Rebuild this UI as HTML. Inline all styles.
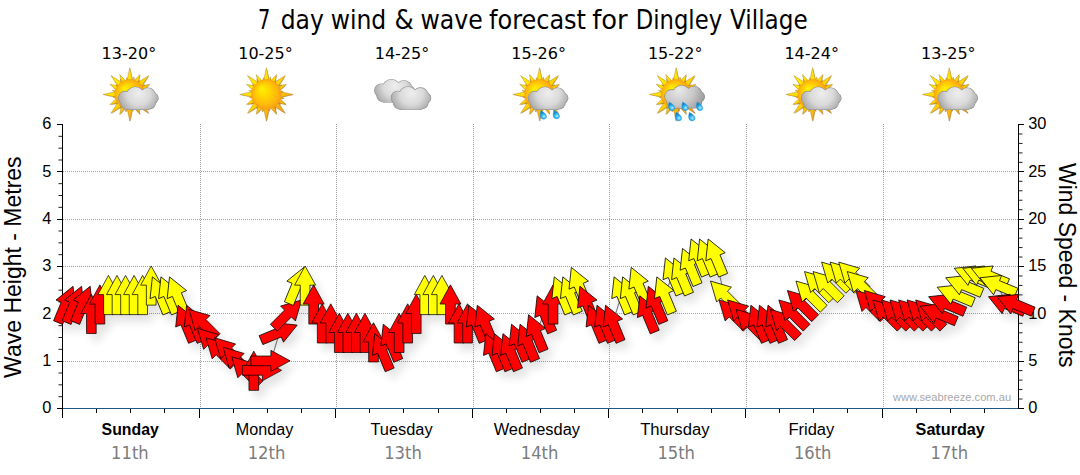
<!DOCTYPE html>
<html lang="en"><head><meta charset="utf-8"><title>7 day wind &amp; wave forecast for Dingley Village</title>
<style>html,body{margin:0;padding:0;background:#fff;}svg{display:block;}.ar{font-family:"Liberation Sans",Arial,sans-serif;}.ta{font-family:"DejaVu Sans Condensed","DejaVu Sans",Tahoma,Verdana,sans-serif;}</style></head><body>
<svg width="1080" height="475" viewBox="0 0 1080 475">
<defs>
<filter id="sh" x="-5%" y="-20%" width="110%" height="150%">
<feGaussianBlur in="SourceAlpha" stdDeviation="4.5" result="b"/>
<feOffset in="b" dx="5" dy="7" result="o"/>
<feComponentTransfer in="o" result="s"><feFuncA type="linear" slope="0.115"/></feComponentTransfer>
<feMerge><feMergeNode in="s"/><feMergeNode in="SourceGraphic"/></feMerge>
</filter>
<filter id="isoft" x="-10%" y="-10%" width="120%" height="120%"><feGaussianBlur stdDeviation="0.35"/></filter>
</defs>

<rect x="0" y="0" width="1080" height="475" fill="#ffffff"/>
<text class="ta" y="29.3" font-size="26.7" fill="#000"><tspan x="257.9" textLength="12.3" lengthAdjust="spacingAndGlyphs">7</tspan> <tspan x="280.7" textLength="43.1" lengthAdjust="spacingAndGlyphs">day</tspan> <tspan x="330.7" textLength="55.6" lengthAdjust="spacingAndGlyphs">wind</tspan> <tspan x="394.6" textLength="19.2" lengthAdjust="spacingAndGlyphs">&amp;</tspan> <tspan x="420.4" textLength="62.3" lengthAdjust="spacingAndGlyphs">wave</tspan> <tspan x="489.0" textLength="97.0" lengthAdjust="spacingAndGlyphs">forecast</tspan> <tspan x="592.3" textLength="35.4" lengthAdjust="spacingAndGlyphs">for</tspan> <tspan x="635.7" textLength="86.4" lengthAdjust="spacingAndGlyphs">Dingley</tspan> <tspan x="730.1" textLength="77.6" lengthAdjust="spacingAndGlyphs">Village</tspan></text>
<g stroke="#a0a0a0" stroke-width="1" stroke-dasharray="1 1" shape-rendering="crispEdges"><line x1="63.0" y1="361.5" x2="1017.5" y2="361.5"/><line x1="63.0" y1="313.5" x2="1017.5" y2="313.5"/><line x1="63.0" y1="266.5" x2="1017.5" y2="266.5"/><line x1="63.0" y1="219.5" x2="1017.5" y2="219.5"/><line x1="63.0" y1="171.5" x2="1017.5" y2="171.5"/><line x1="200.5" y1="124.0" x2="200.5" y2="408.0"/><line x1="336.5" y1="124.0" x2="336.5" y2="408.0"/><line x1="473.5" y1="124.0" x2="473.5" y2="408.0"/><line x1="609.5" y1="124.0" x2="609.5" y2="408.0"/><line x1="746.5" y1="124.0" x2="746.5" y2="408.0"/><line x1="883.5" y1="124.0" x2="883.5" y2="408.0"/></g>
<g stroke="#000" stroke-width="1" shape-rendering="crispEdges">
<line x1="62.5" y1="124.0" x2="62.5" y2="409.0"/>
<line x1="1018.5" y1="124.0" x2="1018.5" y2="409.0"/>
<line x1="56.5" y1="408.5" x2="62.5" y2="408.5"/>
<line x1="58.5" y1="396.67" x2="62.5" y2="396.67" stroke="#222" shape-rendering="auto"/>
<line x1="58.5" y1="384.83" x2="62.5" y2="384.83" stroke="#222" shape-rendering="auto"/>
<line x1="58.5" y1="373.00" x2="62.5" y2="373.00" stroke="#222" shape-rendering="auto"/>
<line x1="56.5" y1="361.5" x2="62.5" y2="361.5"/>
<line x1="58.5" y1="349.33" x2="62.5" y2="349.33" stroke="#222" shape-rendering="auto"/>
<line x1="58.5" y1="337.50" x2="62.5" y2="337.50" stroke="#222" shape-rendering="auto"/>
<line x1="58.5" y1="325.67" x2="62.5" y2="325.67" stroke="#222" shape-rendering="auto"/>
<line x1="56.5" y1="313.5" x2="62.5" y2="313.5"/>
<line x1="58.5" y1="302.00" x2="62.5" y2="302.00" stroke="#222" shape-rendering="auto"/>
<line x1="58.5" y1="290.17" x2="62.5" y2="290.17" stroke="#222" shape-rendering="auto"/>
<line x1="58.5" y1="278.33" x2="62.5" y2="278.33" stroke="#222" shape-rendering="auto"/>
<line x1="56.5" y1="266.5" x2="62.5" y2="266.5"/>
<line x1="58.5" y1="254.67" x2="62.5" y2="254.67" stroke="#222" shape-rendering="auto"/>
<line x1="58.5" y1="242.83" x2="62.5" y2="242.83" stroke="#222" shape-rendering="auto"/>
<line x1="58.5" y1="231.00" x2="62.5" y2="231.00" stroke="#222" shape-rendering="auto"/>
<line x1="56.5" y1="219.5" x2="62.5" y2="219.5"/>
<line x1="58.5" y1="207.33" x2="62.5" y2="207.33" stroke="#222" shape-rendering="auto"/>
<line x1="58.5" y1="195.50" x2="62.5" y2="195.50" stroke="#222" shape-rendering="auto"/>
<line x1="58.5" y1="183.67" x2="62.5" y2="183.67" stroke="#222" shape-rendering="auto"/>
<line x1="56.5" y1="171.5" x2="62.5" y2="171.5"/>
<line x1="58.5" y1="160.00" x2="62.5" y2="160.00" stroke="#222" shape-rendering="auto"/>
<line x1="58.5" y1="148.17" x2="62.5" y2="148.17" stroke="#222" shape-rendering="auto"/>
<line x1="58.5" y1="136.33" x2="62.5" y2="136.33" stroke="#222" shape-rendering="auto"/>
<line x1="56.5" y1="124.5" x2="62.5" y2="124.5"/>
<line x1="1018.5" y1="408.5" x2="1024.0" y2="408.5"/>
<line x1="1018.5" y1="399.03" x2="1022.5" y2="399.03" stroke="#222" shape-rendering="auto"/>
<line x1="1018.5" y1="389.57" x2="1022.5" y2="389.57" stroke="#222" shape-rendering="auto"/>
<line x1="1018.5" y1="380.10" x2="1022.5" y2="380.10" stroke="#222" shape-rendering="auto"/>
<line x1="1018.5" y1="370.63" x2="1022.5" y2="370.63" stroke="#222" shape-rendering="auto"/>
<line x1="1018.5" y1="361.5" x2="1024.0" y2="361.5"/>
<line x1="1018.5" y1="351.70" x2="1022.5" y2="351.70" stroke="#222" shape-rendering="auto"/>
<line x1="1018.5" y1="342.23" x2="1022.5" y2="342.23" stroke="#222" shape-rendering="auto"/>
<line x1="1018.5" y1="332.77" x2="1022.5" y2="332.77" stroke="#222" shape-rendering="auto"/>
<line x1="1018.5" y1="323.30" x2="1022.5" y2="323.30" stroke="#222" shape-rendering="auto"/>
<line x1="1018.5" y1="313.5" x2="1024.0" y2="313.5"/>
<line x1="1018.5" y1="304.37" x2="1022.5" y2="304.37" stroke="#222" shape-rendering="auto"/>
<line x1="1018.5" y1="294.90" x2="1022.5" y2="294.90" stroke="#222" shape-rendering="auto"/>
<line x1="1018.5" y1="285.43" x2="1022.5" y2="285.43" stroke="#222" shape-rendering="auto"/>
<line x1="1018.5" y1="275.97" x2="1022.5" y2="275.97" stroke="#222" shape-rendering="auto"/>
<line x1="1018.5" y1="266.5" x2="1024.0" y2="266.5"/>
<line x1="1018.5" y1="257.03" x2="1022.5" y2="257.03" stroke="#222" shape-rendering="auto"/>
<line x1="1018.5" y1="247.57" x2="1022.5" y2="247.57" stroke="#222" shape-rendering="auto"/>
<line x1="1018.5" y1="238.10" x2="1022.5" y2="238.10" stroke="#222" shape-rendering="auto"/>
<line x1="1018.5" y1="228.63" x2="1022.5" y2="228.63" stroke="#222" shape-rendering="auto"/>
<line x1="1018.5" y1="219.5" x2="1024.0" y2="219.5"/>
<line x1="1018.5" y1="209.70" x2="1022.5" y2="209.70" stroke="#222" shape-rendering="auto"/>
<line x1="1018.5" y1="200.23" x2="1022.5" y2="200.23" stroke="#222" shape-rendering="auto"/>
<line x1="1018.5" y1="190.77" x2="1022.5" y2="190.77" stroke="#222" shape-rendering="auto"/>
<line x1="1018.5" y1="181.30" x2="1022.5" y2="181.30" stroke="#222" shape-rendering="auto"/>
<line x1="1018.5" y1="171.5" x2="1024.0" y2="171.5"/>
<line x1="1018.5" y1="162.37" x2="1022.5" y2="162.37" stroke="#222" shape-rendering="auto"/>
<line x1="1018.5" y1="152.90" x2="1022.5" y2="152.90" stroke="#222" shape-rendering="auto"/>
<line x1="1018.5" y1="143.43" x2="1022.5" y2="143.43" stroke="#222" shape-rendering="auto"/>
<line x1="1018.5" y1="133.97" x2="1022.5" y2="133.97" stroke="#222" shape-rendering="auto"/>
<line x1="1018.5" y1="124.5" x2="1024.0" y2="124.5"/>
<line x1="62.5" y1="408.5" x2="62.5" y2="418.0"/>
<line x1="96.5" y1="408.5" x2="96.5" y2="413.0"/>
<line x1="130.5" y1="408.5" x2="130.5" y2="413.0"/>
<line x1="164.5" y1="408.5" x2="164.5" y2="413.0"/>
<line x1="199.5" y1="408.5" x2="199.5" y2="418.0"/>
<line x1="233.5" y1="408.5" x2="233.5" y2="413.0"/>
<line x1="267.5" y1="408.5" x2="267.5" y2="413.0"/>
<line x1="301.5" y1="408.5" x2="301.5" y2="413.0"/>
<line x1="335.5" y1="408.5" x2="335.5" y2="418.0"/>
<line x1="369.5" y1="408.5" x2="369.5" y2="413.0"/>
<line x1="403.5" y1="408.5" x2="403.5" y2="413.0"/>
<line x1="438.5" y1="408.5" x2="438.5" y2="413.0"/>
<line x1="472.5" y1="408.5" x2="472.5" y2="418.0"/>
<line x1="506.5" y1="408.5" x2="506.5" y2="413.0"/>
<line x1="540.5" y1="408.5" x2="540.5" y2="413.0"/>
<line x1="574.5" y1="408.5" x2="574.5" y2="413.0"/>
<line x1="608.5" y1="408.5" x2="608.5" y2="418.0"/>
<line x1="642.5" y1="408.5" x2="642.5" y2="413.0"/>
<line x1="677.5" y1="408.5" x2="677.5" y2="413.0"/>
<line x1="711.5" y1="408.5" x2="711.5" y2="413.0"/>
<line x1="745.5" y1="408.5" x2="745.5" y2="418.0"/>
<line x1="779.5" y1="408.5" x2="779.5" y2="413.0"/>
<line x1="813.5" y1="408.5" x2="813.5" y2="413.0"/>
<line x1="847.5" y1="408.5" x2="847.5" y2="413.0"/>
<line x1="882.5" y1="408.5" x2="882.5" y2="418.0"/>
<line x1="916.5" y1="408.5" x2="916.5" y2="413.0"/>
<line x1="950.5" y1="408.5" x2="950.5" y2="413.0"/>
<line x1="984.5" y1="408.5" x2="984.5" y2="413.0"/>
</g>
<line x1="63.0" y1="408.5" x2="1018.0" y2="408.5" stroke="#1b5787" stroke-width="1" shape-rendering="crispEdges"/>
<text class="ar" x="51.3" y="413.4" font-size="16.4" text-anchor="end" fill="#000">0</text>
<text class="ar" x="51.3" y="366.1" font-size="16.4" text-anchor="end" fill="#000">1</text>
<text class="ar" x="51.3" y="318.7" font-size="16.4" text-anchor="end" fill="#000">2</text>
<text class="ar" x="51.3" y="271.4" font-size="16.4" text-anchor="end" fill="#000">3</text>
<text class="ar" x="51.3" y="224.1" font-size="16.4" text-anchor="end" fill="#000">4</text>
<text class="ar" x="51.3" y="176.7" font-size="16.4" text-anchor="end" fill="#000">5</text>
<text class="ar" x="51.3" y="129.4" font-size="16.4" text-anchor="end" fill="#000">6</text>
<text class="ar" x="1028.2" y="413.4" font-size="16.4" fill="#000">0</text>
<text class="ar" x="1028.2" y="366.1" font-size="16.4" fill="#000">5</text>
<text class="ar" x="1028.2" y="318.7" font-size="16.4" fill="#000">10</text>
<text class="ar" x="1028.2" y="271.4" font-size="16.4" fill="#000">15</text>
<text class="ar" x="1028.2" y="224.1" font-size="16.4" fill="#000">20</text>
<text class="ar" x="1028.2" y="176.7" font-size="16.4" fill="#000">25</text>
<text class="ar" x="1028.2" y="129.4" font-size="16.4" fill="#000">30</text>
<text class="ar" transform="translate(20.7,377.9) rotate(-90)" font-size="23" textLength="221.5" lengthAdjust="spacingAndGlyphs" fill="#000">Wave Height - Metres</text>
<text class="ar" transform="translate(1059.2,163) rotate(90)" font-size="23" textLength="204.4" lengthAdjust="spacingAndGlyphs" fill="#000">Wind Speed - Knots</text>
<text class="ar" x="101.6" y="434.8" font-size="16" font-weight="bold" textLength="57.2" lengthAdjust="spacingAndGlyphs" fill="#000">Sunday</text>
<text class="ta" x="111.1" y="458.8" font-size="17.3" textLength="37.6" lengthAdjust="spacingAndGlyphs" fill="#7c7c7c">11th</text>
<text class="ta" x="101.6" y="58.9" font-size="16.4" textLength="54.6" lengthAdjust="spacingAndGlyphs" fill="#000">13-20°</text>
<text class="ar" x="235.8" y="434.8" font-size="16" textLength="57.5" lengthAdjust="spacingAndGlyphs" fill="#000">Monday</text>
<text class="ta" x="247.7" y="458.8" font-size="17.3" textLength="37.6" lengthAdjust="spacingAndGlyphs" fill="#7c7c7c">12th</text>
<text class="ta" x="238.2" y="58.9" font-size="16.4" textLength="54.6" lengthAdjust="spacingAndGlyphs" fill="#000">10-25°</text>
<text class="ar" x="370.4" y="434.8" font-size="16" textLength="62.2" lengthAdjust="spacingAndGlyphs" fill="#000">Tuesday</text>
<text class="ta" x="384.2" y="458.8" font-size="17.3" textLength="37.6" lengthAdjust="spacingAndGlyphs" fill="#7c7c7c">13th</text>
<text class="ta" x="374.7" y="58.9" font-size="16.4" textLength="54.6" lengthAdjust="spacingAndGlyphs" fill="#000">14-25°</text>
<text class="ar" x="493.7" y="434.8" font-size="16" textLength="86.3" lengthAdjust="spacingAndGlyphs" fill="#000">Wednesday</text>
<text class="ta" x="520.8" y="458.8" font-size="17.3" textLength="37.6" lengthAdjust="spacingAndGlyphs" fill="#7c7c7c">14th</text>
<text class="ta" x="511.3" y="58.9" font-size="16.4" textLength="54.6" lengthAdjust="spacingAndGlyphs" fill="#000">15-26°</text>
<text class="ar" x="640.2" y="434.8" font-size="16" textLength="69.3" lengthAdjust="spacingAndGlyphs" fill="#000">Thursday</text>
<text class="ta" x="657.4" y="458.8" font-size="17.3" textLength="37.6" lengthAdjust="spacingAndGlyphs" fill="#7c7c7c">15th</text>
<text class="ta" x="647.9" y="58.9" font-size="16.4" textLength="54.6" lengthAdjust="spacingAndGlyphs" fill="#000">15-22°</text>
<text class="ar" x="788.4" y="434.8" font-size="16" textLength="45.9" lengthAdjust="spacingAndGlyphs" fill="#000">Friday</text>
<text class="ta" x="793.9" y="458.8" font-size="17.3" textLength="37.6" lengthAdjust="spacingAndGlyphs" fill="#7c7c7c">16th</text>
<text class="ta" x="784.4" y="58.9" font-size="16.4" textLength="54.6" lengthAdjust="spacingAndGlyphs" fill="#000">14-24°</text>
<text class="ar" x="915.6" y="434.8" font-size="16" font-weight="bold" textLength="69.2" lengthAdjust="spacingAndGlyphs" fill="#000">Saturday</text>
<text class="ta" x="930.5" y="458.8" font-size="17.3" textLength="37.6" lengthAdjust="spacingAndGlyphs" fill="#7c7c7c">17th</text>
<text class="ta" x="921.0" y="58.9" font-size="16.4" textLength="54.6" lengthAdjust="spacingAndGlyphs" fill="#000">13-25°</text>
<polyline points="65.7,304.1 74.2,304.1 82.8,304.1 91.4,313.5 99.9,304.1 108.5,294.6 117.0,294.6 125.6,294.6 134.1,294.6 142.7,294.6 151.2,285.1 159.8,294.6 168.3,294.6 176.9,294.6 185.4,323.0 193.9,323.0 202.5,323.0 211.1,341.9 219.6,351.4 228.2,351.4 236.7,360.9 245.2,370.3 253.8,370.3 262.4,370.3 270.9,360.9 279.5,332.5 288.0,313.5 296.6,285.1 305.1,285.1 313.7,304.1 322.2,323.0 330.8,323.0 339.3,332.5 347.9,332.5 356.4,332.5 364.9,332.5 373.5,341.9 382.1,351.4 390.6,341.9 399.2,332.5 407.7,323.0 416.2,313.5 424.8,294.6 433.4,294.6 441.9,294.6 450.5,304.1 459.0,323.0 467.6,323.0 476.1,323.0 484.7,323.0 493.2,351.4 501.8,351.4 510.3,351.4 518.9,341.9 527.4,341.9 536.0,332.5 544.5,313.5 553.1,304.1 561.6,294.6 570.2,294.6 578.7,285.1 587.3,304.1 595.8,323.0 604.4,323.0 612.9,323.0 621.5,294.6 630.0,294.6 638.6,285.1 647.1,313.5 655.7,304.1 664.2,294.6 672.8,275.7 681.3,275.7 689.9,266.2 698.4,256.7 707.0,256.7 715.5,256.7 724.1,294.6 732.6,313.5 741.2,313.5 749.7,323.0 758.3,323.0 766.8,323.0 775.4,323.0 783.9,323.0 792.5,313.5 801.0,304.1 809.6,294.6 818.1,285.1 826.7,285.1 835.2,275.7 843.8,275.7 852.3,275.7 860.9,285.1 869.4,304.1 878.0,304.1 886.5,313.5 895.1,313.5 903.6,313.5 912.2,313.5 920.7,313.5 929.3,313.5 937.8,313.5 946.4,304.1 954.9,294.6 963.5,285.1 972.0,275.7 980.6,275.7 989.1,275.7 997.7,285.1 1006.2,304.1 1014.8,304.1" fill="none" stroke="#808080" stroke-width="1.1"/>
<g stroke="#000" stroke-width="0.72" stroke-linejoin="miter" filter="url(#sh)">
<path d="M0,-19.2 L10.5,0.0 L4.85,0.0 L4.85,20.0 L-4.85,20.0 L-4.85,0.0 L-10.5,0.0 Z" fill="#ff0000" transform="translate(65.70,304.06) rotate(22.5)"/>
<path d="M0,-19.2 L10.5,0.0 L4.85,0.0 L4.85,20.0 L-4.85,20.0 L-4.85,0.0 L-10.5,0.0 Z" fill="#ff0000" transform="translate(74.25,304.06) rotate(22.5)"/>
<path d="M0,-19.2 L10.5,0.0 L4.85,0.0 L4.85,20.0 L-4.85,20.0 L-4.85,0.0 L-10.5,0.0 Z" fill="#ff0000" transform="translate(82.80,304.06) rotate(22.5)"/>
<path d="M0,-19.2 L10.5,0.0 L4.85,0.0 L4.85,20.0 L-4.85,20.0 L-4.85,0.0 L-10.5,0.0 Z" fill="#ff0000" transform="translate(91.35,313.53) rotate(0)"/>
<path d="M0,-19.2 L10.5,0.0 L4.85,0.0 L4.85,20.0 L-4.85,20.0 L-4.85,0.0 L-10.5,0.0 Z" fill="#ff0000" transform="translate(99.90,304.06) rotate(0)"/>
<path d="M0,-19.2 L10.5,0.0 L4.85,0.0 L4.85,20.0 L-4.85,20.0 L-4.85,0.0 L-10.5,0.0 Z" fill="#ffff00" transform="translate(108.45,294.60) rotate(0)"/>
<path d="M0,-19.2 L10.5,0.0 L4.85,0.0 L4.85,20.0 L-4.85,20.0 L-4.85,0.0 L-10.5,0.0 Z" fill="#ffff00" transform="translate(117.00,294.60) rotate(0)"/>
<path d="M0,-19.2 L10.5,0.0 L4.85,0.0 L4.85,20.0 L-4.85,20.0 L-4.85,0.0 L-10.5,0.0 Z" fill="#ffff00" transform="translate(125.55,294.60) rotate(0)"/>
<path d="M0,-19.2 L10.5,0.0 L4.85,0.0 L4.85,20.0 L-4.85,20.0 L-4.85,0.0 L-10.5,0.0 Z" fill="#ffff00" transform="translate(134.10,294.60) rotate(0)"/>
<path d="M0,-19.2 L10.5,0.0 L4.85,0.0 L4.85,20.0 L-4.85,20.0 L-4.85,0.0 L-10.5,0.0 Z" fill="#ffff00" transform="translate(142.65,294.60) rotate(0)"/>
<path d="M0,-19.2 L10.5,0.0 L4.85,0.0 L4.85,20.0 L-4.85,20.0 L-4.85,0.0 L-10.5,0.0 Z" fill="#ffff00" transform="translate(151.20,285.13) rotate(0)"/>
<path d="M0,-19.2 L10.5,0.0 L4.85,0.0 L4.85,20.0 L-4.85,20.0 L-4.85,0.0 L-10.5,0.0 Z" fill="#ffff00" transform="translate(159.75,294.60) rotate(-22.5)"/>
<path d="M0,-19.2 L10.5,0.0 L4.85,0.0 L4.85,20.0 L-4.85,20.0 L-4.85,0.0 L-10.5,0.0 Z" fill="#ffff00" transform="translate(168.30,294.60) rotate(-22.5)"/>
<path d="M0,-19.2 L10.5,0.0 L4.85,0.0 L4.85,20.0 L-4.85,20.0 L-4.85,0.0 L-10.5,0.0 Z" fill="#ffff00" transform="translate(176.85,294.60) rotate(-22.5)"/>
<path d="M0,-19.2 L10.5,0.0 L4.85,0.0 L4.85,20.0 L-4.85,20.0 L-4.85,0.0 L-10.5,0.0 Z" fill="#ff0000" transform="translate(185.40,323.00) rotate(-22.5)"/>
<path d="M0,-19.2 L10.5,0.0 L4.85,0.0 L4.85,20.0 L-4.85,20.0 L-4.85,0.0 L-10.5,0.0 Z" fill="#ff0000" transform="translate(193.95,323.00) rotate(-22.5)"/>
<path d="M0,-19.2 L10.5,0.0 L4.85,0.0 L4.85,20.0 L-4.85,20.0 L-4.85,0.0 L-10.5,0.0 Z" fill="#ff0000" transform="translate(202.50,323.00) rotate(-45.0)"/>
<path d="M0,-19.2 L10.5,0.0 L4.85,0.0 L4.85,20.0 L-4.85,20.0 L-4.85,0.0 L-10.5,0.0 Z" fill="#ff0000" transform="translate(211.05,341.93) rotate(-45.0)"/>
<path d="M0,-19.2 L10.5,0.0 L4.85,0.0 L4.85,20.0 L-4.85,20.0 L-4.85,0.0 L-10.5,0.0 Z" fill="#ff0000" transform="translate(219.60,351.40) rotate(-45.0)"/>
<path d="M0,-19.2 L10.5,0.0 L4.85,0.0 L4.85,20.0 L-4.85,20.0 L-4.85,0.0 L-10.5,0.0 Z" fill="#ff0000" transform="translate(228.15,351.40) rotate(-45.0)"/>
<path d="M0,-19.2 L10.5,0.0 L4.85,0.0 L4.85,20.0 L-4.85,20.0 L-4.85,0.0 L-10.5,0.0 Z" fill="#ff0000" transform="translate(236.70,360.87) rotate(-45.0)"/>
<path d="M0,-19.2 L10.5,0.0 L4.85,0.0 L4.85,20.0 L-4.85,20.0 L-4.85,0.0 L-10.5,0.0 Z" fill="#ff0000" transform="translate(245.25,370.33) rotate(-45.0)"/>
<path d="M0,-19.2 L10.5,0.0 L4.85,0.0 L4.85,20.0 L-4.85,20.0 L-4.85,0.0 L-10.5,0.0 Z" fill="#ff0000" transform="translate(253.80,370.33) rotate(0)"/>
<path d="M0,-19.2 L10.5,0.0 L4.85,0.0 L4.85,20.0 L-4.85,20.0 L-4.85,0.0 L-10.5,0.0 Z" fill="#ff0000" transform="translate(262.35,370.33) rotate(90.0)"/>
<path d="M0,-19.2 L10.5,0.0 L4.85,0.0 L4.85,20.0 L-4.85,20.0 L-4.85,0.0 L-10.5,0.0 Z" fill="#ff0000" transform="translate(270.90,360.87) rotate(90.0)"/>
<path d="M0,-19.2 L10.5,0.0 L4.85,0.0 L4.85,20.0 L-4.85,20.0 L-4.85,0.0 L-10.5,0.0 Z" fill="#ff0000" transform="translate(279.45,332.46) rotate(67.5)"/>
<path d="M0,-19.2 L10.5,0.0 L4.85,0.0 L4.85,20.0 L-4.85,20.0 L-4.85,0.0 L-10.5,0.0 Z" fill="#ff0000" transform="translate(288.00,313.53) rotate(45.0)"/>
<path d="M0,-19.2 L10.5,0.0 L4.85,0.0 L4.85,20.0 L-4.85,20.0 L-4.85,0.0 L-10.5,0.0 Z" fill="#ffff00" transform="translate(296.55,285.13) rotate(22.5)"/>
<path d="M0,-19.2 L10.5,0.0 L4.85,0.0 L4.85,20.0 L-4.85,20.0 L-4.85,0.0 L-10.5,0.0 Z" fill="#ffff00" transform="translate(305.10,285.13) rotate(0)"/>
<path d="M0,-19.2 L10.5,0.0 L4.85,0.0 L4.85,20.0 L-4.85,20.0 L-4.85,0.0 L-10.5,0.0 Z" fill="#ff0000" transform="translate(313.65,304.06) rotate(0)"/>
<path d="M0,-19.2 L10.5,0.0 L4.85,0.0 L4.85,20.0 L-4.85,20.0 L-4.85,0.0 L-10.5,0.0 Z" fill="#ff0000" transform="translate(322.20,323.00) rotate(0)"/>
<path d="M0,-19.2 L10.5,0.0 L4.85,0.0 L4.85,20.0 L-4.85,20.0 L-4.85,0.0 L-10.5,0.0 Z" fill="#ff0000" transform="translate(330.75,323.00) rotate(0)"/>
<path d="M0,-19.2 L10.5,0.0 L4.85,0.0 L4.85,20.0 L-4.85,20.0 L-4.85,0.0 L-10.5,0.0 Z" fill="#ff0000" transform="translate(339.30,332.46) rotate(0)"/>
<path d="M0,-19.2 L10.5,0.0 L4.85,0.0 L4.85,20.0 L-4.85,20.0 L-4.85,0.0 L-10.5,0.0 Z" fill="#ff0000" transform="translate(347.85,332.46) rotate(0)"/>
<path d="M0,-19.2 L10.5,0.0 L4.85,0.0 L4.85,20.0 L-4.85,20.0 L-4.85,0.0 L-10.5,0.0 Z" fill="#ff0000" transform="translate(356.40,332.46) rotate(0)"/>
<path d="M0,-19.2 L10.5,0.0 L4.85,0.0 L4.85,20.0 L-4.85,20.0 L-4.85,0.0 L-10.5,0.0 Z" fill="#ff0000" transform="translate(364.95,332.46) rotate(0)"/>
<path d="M0,-19.2 L10.5,0.0 L4.85,0.0 L4.85,20.0 L-4.85,20.0 L-4.85,0.0 L-10.5,0.0 Z" fill="#ff0000" transform="translate(373.50,341.93) rotate(0)"/>
<path d="M0,-19.2 L10.5,0.0 L4.85,0.0 L4.85,20.0 L-4.85,20.0 L-4.85,0.0 L-10.5,0.0 Z" fill="#ff0000" transform="translate(382.05,351.40) rotate(-22.5)"/>
<path d="M0,-19.2 L10.5,0.0 L4.85,0.0 L4.85,20.0 L-4.85,20.0 L-4.85,0.0 L-10.5,0.0 Z" fill="#ff0000" transform="translate(390.60,341.93) rotate(-22.5)"/>
<path d="M0,-19.2 L10.5,0.0 L4.85,0.0 L4.85,20.0 L-4.85,20.0 L-4.85,0.0 L-10.5,0.0 Z" fill="#ff0000" transform="translate(399.15,332.46) rotate(0)"/>
<path d="M0,-19.2 L10.5,0.0 L4.85,0.0 L4.85,20.0 L-4.85,20.0 L-4.85,0.0 L-10.5,0.0 Z" fill="#ff0000" transform="translate(407.70,323.00) rotate(0)"/>
<path d="M0,-19.2 L10.5,0.0 L4.85,0.0 L4.85,20.0 L-4.85,20.0 L-4.85,0.0 L-10.5,0.0 Z" fill="#ff0000" transform="translate(416.25,313.53) rotate(0)"/>
<path d="M0,-19.2 L10.5,0.0 L4.85,0.0 L4.85,20.0 L-4.85,20.0 L-4.85,0.0 L-10.5,0.0 Z" fill="#ffff00" transform="translate(424.80,294.60) rotate(0)"/>
<path d="M0,-19.2 L10.5,0.0 L4.85,0.0 L4.85,20.0 L-4.85,20.0 L-4.85,0.0 L-10.5,0.0 Z" fill="#ffff00" transform="translate(433.35,294.60) rotate(0)"/>
<path d="M0,-19.2 L10.5,0.0 L4.85,0.0 L4.85,20.0 L-4.85,20.0 L-4.85,0.0 L-10.5,0.0 Z" fill="#ffff00" transform="translate(441.90,294.60) rotate(0)"/>
<path d="M0,-19.2 L10.5,0.0 L4.85,0.0 L4.85,20.0 L-4.85,20.0 L-4.85,0.0 L-10.5,0.0 Z" fill="#ff0000" transform="translate(450.45,304.06) rotate(0)"/>
<path d="M0,-19.2 L10.5,0.0 L4.85,0.0 L4.85,20.0 L-4.85,20.0 L-4.85,0.0 L-10.5,0.0 Z" fill="#ff0000" transform="translate(459.00,323.00) rotate(0)"/>
<path d="M0,-19.2 L10.5,0.0 L4.85,0.0 L4.85,20.0 L-4.85,20.0 L-4.85,0.0 L-10.5,0.0 Z" fill="#ff0000" transform="translate(467.55,323.00) rotate(0)"/>
<path d="M0,-19.2 L10.5,0.0 L4.85,0.0 L4.85,20.0 L-4.85,20.0 L-4.85,0.0 L-10.5,0.0 Z" fill="#ff0000" transform="translate(476.10,323.00) rotate(-22.5)"/>
<path d="M0,-19.2 L10.5,0.0 L4.85,0.0 L4.85,20.0 L-4.85,20.0 L-4.85,0.0 L-10.5,0.0 Z" fill="#ff0000" transform="translate(484.65,323.00) rotate(-22.5)"/>
<path d="M0,-19.2 L10.5,0.0 L4.85,0.0 L4.85,20.0 L-4.85,20.0 L-4.85,0.0 L-10.5,0.0 Z" fill="#ff0000" transform="translate(493.20,351.40) rotate(-22.5)"/>
<path d="M0,-19.2 L10.5,0.0 L4.85,0.0 L4.85,20.0 L-4.85,20.0 L-4.85,0.0 L-10.5,0.0 Z" fill="#ff0000" transform="translate(501.75,351.40) rotate(-22.5)"/>
<path d="M0,-19.2 L10.5,0.0 L4.85,0.0 L4.85,20.0 L-4.85,20.0 L-4.85,0.0 L-10.5,0.0 Z" fill="#ff0000" transform="translate(510.30,351.40) rotate(-22.5)"/>
<path d="M0,-19.2 L10.5,0.0 L4.85,0.0 L4.85,20.0 L-4.85,20.0 L-4.85,0.0 L-10.5,0.0 Z" fill="#ff0000" transform="translate(518.85,341.93) rotate(-22.5)"/>
<path d="M0,-19.2 L10.5,0.0 L4.85,0.0 L4.85,20.0 L-4.85,20.0 L-4.85,0.0 L-10.5,0.0 Z" fill="#ff0000" transform="translate(527.40,341.93) rotate(-22.5)"/>
<path d="M0,-19.2 L10.5,0.0 L4.85,0.0 L4.85,20.0 L-4.85,20.0 L-4.85,0.0 L-10.5,0.0 Z" fill="#ff0000" transform="translate(535.95,332.46) rotate(-22.5)"/>
<path d="M0,-19.2 L10.5,0.0 L4.85,0.0 L4.85,20.0 L-4.85,20.0 L-4.85,0.0 L-10.5,0.0 Z" fill="#ff0000" transform="translate(544.50,313.53) rotate(-22.5)"/>
<path d="M0,-19.2 L10.5,0.0 L4.85,0.0 L4.85,20.0 L-4.85,20.0 L-4.85,0.0 L-10.5,0.0 Z" fill="#ff0000" transform="translate(553.05,304.06) rotate(0)"/>
<path d="M0,-19.2 L10.5,0.0 L4.85,0.0 L4.85,20.0 L-4.85,20.0 L-4.85,0.0 L-10.5,0.0 Z" fill="#ffff00" transform="translate(561.60,294.60) rotate(-22.5)"/>
<path d="M0,-19.2 L10.5,0.0 L4.85,0.0 L4.85,20.0 L-4.85,20.0 L-4.85,0.0 L-10.5,0.0 Z" fill="#ffff00" transform="translate(570.15,294.60) rotate(-22.5)"/>
<path d="M0,-19.2 L10.5,0.0 L4.85,0.0 L4.85,20.0 L-4.85,20.0 L-4.85,0.0 L-10.5,0.0 Z" fill="#ffff00" transform="translate(578.70,285.13) rotate(-22.5)"/>
<path d="M0,-19.2 L10.5,0.0 L4.85,0.0 L4.85,20.0 L-4.85,20.0 L-4.85,0.0 L-10.5,0.0 Z" fill="#ff0000" transform="translate(587.25,304.06) rotate(-22.5)"/>
<path d="M0,-19.2 L10.5,0.0 L4.85,0.0 L4.85,20.0 L-4.85,20.0 L-4.85,0.0 L-10.5,0.0 Z" fill="#ff0000" transform="translate(595.80,323.00) rotate(-22.5)"/>
<path d="M0,-19.2 L10.5,0.0 L4.85,0.0 L4.85,20.0 L-4.85,20.0 L-4.85,0.0 L-10.5,0.0 Z" fill="#ff0000" transform="translate(604.35,323.00) rotate(-22.5)"/>
<path d="M0,-19.2 L10.5,0.0 L4.85,0.0 L4.85,20.0 L-4.85,20.0 L-4.85,0.0 L-10.5,0.0 Z" fill="#ff0000" transform="translate(612.90,323.00) rotate(-22.5)"/>
<path d="M0,-19.2 L10.5,0.0 L4.85,0.0 L4.85,20.0 L-4.85,20.0 L-4.85,0.0 L-10.5,0.0 Z" fill="#ffff00" transform="translate(621.45,294.60) rotate(-22.5)"/>
<path d="M0,-19.2 L10.5,0.0 L4.85,0.0 L4.85,20.0 L-4.85,20.0 L-4.85,0.0 L-10.5,0.0 Z" fill="#ffff00" transform="translate(630.00,294.60) rotate(-22.5)"/>
<path d="M0,-19.2 L10.5,0.0 L4.85,0.0 L4.85,20.0 L-4.85,20.0 L-4.85,0.0 L-10.5,0.0 Z" fill="#ffff00" transform="translate(638.55,285.13) rotate(-22.5)"/>
<path d="M0,-19.2 L10.5,0.0 L4.85,0.0 L4.85,20.0 L-4.85,20.0 L-4.85,0.0 L-10.5,0.0 Z" fill="#ff0000" transform="translate(647.10,313.53) rotate(-22.5)"/>
<path d="M0,-19.2 L10.5,0.0 L4.85,0.0 L4.85,20.0 L-4.85,20.0 L-4.85,0.0 L-10.5,0.0 Z" fill="#ff0000" transform="translate(655.65,304.06) rotate(-22.5)"/>
<path d="M0,-19.2 L10.5,0.0 L4.85,0.0 L4.85,20.0 L-4.85,20.0 L-4.85,0.0 L-10.5,0.0 Z" fill="#ffff00" transform="translate(664.20,294.60) rotate(-22.5)"/>
<path d="M0,-19.2 L10.5,0.0 L4.85,0.0 L4.85,20.0 L-4.85,20.0 L-4.85,0.0 L-10.5,0.0 Z" fill="#ffff00" transform="translate(672.75,275.66) rotate(-22.5)"/>
<path d="M0,-19.2 L10.5,0.0 L4.85,0.0 L4.85,20.0 L-4.85,20.0 L-4.85,0.0 L-10.5,0.0 Z" fill="#ffff00" transform="translate(681.30,275.66) rotate(-22.5)"/>
<path d="M0,-19.2 L10.5,0.0 L4.85,0.0 L4.85,20.0 L-4.85,20.0 L-4.85,0.0 L-10.5,0.0 Z" fill="#ffff00" transform="translate(689.85,266.19) rotate(-22.5)"/>
<path d="M0,-19.2 L10.5,0.0 L4.85,0.0 L4.85,20.0 L-4.85,20.0 L-4.85,0.0 L-10.5,0.0 Z" fill="#ffff00" transform="translate(698.40,256.73) rotate(-22.5)"/>
<path d="M0,-19.2 L10.5,0.0 L4.85,0.0 L4.85,20.0 L-4.85,20.0 L-4.85,0.0 L-10.5,0.0 Z" fill="#ffff00" transform="translate(706.95,256.73) rotate(-22.5)"/>
<path d="M0,-19.2 L10.5,0.0 L4.85,0.0 L4.85,20.0 L-4.85,20.0 L-4.85,0.0 L-10.5,0.0 Z" fill="#ffff00" transform="translate(715.50,256.73) rotate(-22.5)"/>
<path d="M0,-19.2 L10.5,0.0 L4.85,0.0 L4.85,20.0 L-4.85,20.0 L-4.85,0.0 L-10.5,0.0 Z" fill="#ffff00" transform="translate(724.05,294.60) rotate(-45.0)"/>
<path d="M0,-19.2 L10.5,0.0 L4.85,0.0 L4.85,20.0 L-4.85,20.0 L-4.85,0.0 L-10.5,0.0 Z" fill="#ff0000" transform="translate(732.60,313.53) rotate(-45.0)"/>
<path d="M0,-19.2 L10.5,0.0 L4.85,0.0 L4.85,20.0 L-4.85,20.0 L-4.85,0.0 L-10.5,0.0 Z" fill="#ff0000" transform="translate(741.15,313.53) rotate(-45.0)"/>
<path d="M0,-19.2 L10.5,0.0 L4.85,0.0 L4.85,20.0 L-4.85,20.0 L-4.85,0.0 L-10.5,0.0 Z" fill="#ff0000" transform="translate(749.70,323.00) rotate(-45.0)"/>
<path d="M0,-19.2 L10.5,0.0 L4.85,0.0 L4.85,20.0 L-4.85,20.0 L-4.85,0.0 L-10.5,0.0 Z" fill="#ff0000" transform="translate(758.25,323.00) rotate(-22.5)"/>
<path d="M0,-19.2 L10.5,0.0 L4.85,0.0 L4.85,20.0 L-4.85,20.0 L-4.85,0.0 L-10.5,0.0 Z" fill="#ff0000" transform="translate(766.80,323.00) rotate(-22.5)"/>
<path d="M0,-19.2 L10.5,0.0 L4.85,0.0 L4.85,20.0 L-4.85,20.0 L-4.85,0.0 L-10.5,0.0 Z" fill="#ff0000" transform="translate(775.35,323.00) rotate(-22.5)"/>
<path d="M0,-19.2 L10.5,0.0 L4.85,0.0 L4.85,20.0 L-4.85,20.0 L-4.85,0.0 L-10.5,0.0 Z" fill="#ff0000" transform="translate(783.90,323.00) rotate(-45.0)"/>
<path d="M0,-19.2 L10.5,0.0 L4.85,0.0 L4.85,20.0 L-4.85,20.0 L-4.85,0.0 L-10.5,0.0 Z" fill="#ff0000" transform="translate(792.45,313.53) rotate(-45.0)"/>
<path d="M0,-19.2 L10.5,0.0 L4.85,0.0 L4.85,20.0 L-4.85,20.0 L-4.85,0.0 L-10.5,0.0 Z" fill="#ff0000" transform="translate(801.00,304.06) rotate(-45.0)"/>
<path d="M0,-19.2 L10.5,0.0 L4.85,0.0 L4.85,20.0 L-4.85,20.0 L-4.85,0.0 L-10.5,0.0 Z" fill="#ffff00" transform="translate(809.55,294.60) rotate(-45.0)"/>
<path d="M0,-19.2 L10.5,0.0 L4.85,0.0 L4.85,20.0 L-4.85,20.0 L-4.85,0.0 L-10.5,0.0 Z" fill="#ffff00" transform="translate(818.10,285.13) rotate(-45.0)"/>
<path d="M0,-19.2 L10.5,0.0 L4.85,0.0 L4.85,20.0 L-4.85,20.0 L-4.85,0.0 L-10.5,0.0 Z" fill="#ffff00" transform="translate(826.65,285.13) rotate(-45.0)"/>
<path d="M0,-19.2 L10.5,0.0 L4.85,0.0 L4.85,20.0 L-4.85,20.0 L-4.85,0.0 L-10.5,0.0 Z" fill="#ffff00" transform="translate(835.20,275.66) rotate(-45.0)"/>
<path d="M0,-19.2 L10.5,0.0 L4.85,0.0 L4.85,20.0 L-4.85,20.0 L-4.85,0.0 L-10.5,0.0 Z" fill="#ffff00" transform="translate(843.75,275.66) rotate(-45.0)"/>
<path d="M0,-19.2 L10.5,0.0 L4.85,0.0 L4.85,20.0 L-4.85,20.0 L-4.85,0.0 L-10.5,0.0 Z" fill="#ffff00" transform="translate(852.30,275.66) rotate(-45.0)"/>
<path d="M0,-19.2 L10.5,0.0 L4.85,0.0 L4.85,20.0 L-4.85,20.0 L-4.85,0.0 L-10.5,0.0 Z" fill="#ffff00" transform="translate(860.85,285.13) rotate(-45.0)"/>
<path d="M0,-19.2 L10.5,0.0 L4.85,0.0 L4.85,20.0 L-4.85,20.0 L-4.85,0.0 L-10.5,0.0 Z" fill="#ff0000" transform="translate(869.40,304.06) rotate(-45.0)"/>
<path d="M0,-19.2 L10.5,0.0 L4.85,0.0 L4.85,20.0 L-4.85,20.0 L-4.85,0.0 L-10.5,0.0 Z" fill="#ff0000" transform="translate(877.95,304.06) rotate(-45.0)"/>
<path d="M0,-19.2 L10.5,0.0 L4.85,0.0 L4.85,20.0 L-4.85,20.0 L-4.85,0.0 L-10.5,0.0 Z" fill="#ff0000" transform="translate(886.50,313.53) rotate(-45.0)"/>
<path d="M0,-19.2 L10.5,0.0 L4.85,0.0 L4.85,20.0 L-4.85,20.0 L-4.85,0.0 L-10.5,0.0 Z" fill="#ff0000" transform="translate(895.05,313.53) rotate(-45.0)"/>
<path d="M0,-19.2 L10.5,0.0 L4.85,0.0 L4.85,20.0 L-4.85,20.0 L-4.85,0.0 L-10.5,0.0 Z" fill="#ff0000" transform="translate(903.60,313.53) rotate(-45.0)"/>
<path d="M0,-19.2 L10.5,0.0 L4.85,0.0 L4.85,20.0 L-4.85,20.0 L-4.85,0.0 L-10.5,0.0 Z" fill="#ff0000" transform="translate(912.15,313.53) rotate(-45.0)"/>
<path d="M0,-19.2 L10.5,0.0 L4.85,0.0 L4.85,20.0 L-4.85,20.0 L-4.85,0.0 L-10.5,0.0 Z" fill="#ff0000" transform="translate(920.70,313.53) rotate(-45.0)"/>
<path d="M0,-19.2 L10.5,0.0 L4.85,0.0 L4.85,20.0 L-4.85,20.0 L-4.85,0.0 L-10.5,0.0 Z" fill="#ff0000" transform="translate(929.25,313.53) rotate(-45.0)"/>
<path d="M0,-19.2 L10.5,0.0 L4.85,0.0 L4.85,20.0 L-4.85,20.0 L-4.85,0.0 L-10.5,0.0 Z" fill="#ff0000" transform="translate(937.80,313.53) rotate(-67.5)"/>
<path d="M0,-19.2 L10.5,0.0 L4.85,0.0 L4.85,20.0 L-4.85,20.0 L-4.85,0.0 L-10.5,0.0 Z" fill="#ff0000" transform="translate(946.35,304.06) rotate(-67.5)"/>
<path d="M0,-19.2 L10.5,0.0 L4.85,0.0 L4.85,20.0 L-4.85,20.0 L-4.85,0.0 L-10.5,0.0 Z" fill="#ffff00" transform="translate(954.90,294.60) rotate(-67.5)"/>
<path d="M0,-19.2 L10.5,0.0 L4.85,0.0 L4.85,20.0 L-4.85,20.0 L-4.85,0.0 L-10.5,0.0 Z" fill="#ffff00" transform="translate(963.45,285.13) rotate(-67.5)"/>
<path d="M0,-19.2 L10.5,0.0 L4.85,0.0 L4.85,20.0 L-4.85,20.0 L-4.85,0.0 L-10.5,0.0 Z" fill="#ffff00" transform="translate(972.00,275.66) rotate(-67.5)"/>
<path d="M0,-19.2 L10.5,0.0 L4.85,0.0 L4.85,20.0 L-4.85,20.0 L-4.85,0.0 L-10.5,0.0 Z" fill="#ffff00" transform="translate(980.55,275.66) rotate(-67.5)"/>
<path d="M0,-19.2 L10.5,0.0 L4.85,0.0 L4.85,20.0 L-4.85,20.0 L-4.85,0.0 L-10.5,0.0 Z" fill="#ffff00" transform="translate(989.10,275.66) rotate(-67.5)"/>
<path d="M0,-19.2 L10.5,0.0 L4.85,0.0 L4.85,20.0 L-4.85,20.0 L-4.85,0.0 L-10.5,0.0 Z" fill="#ffff00" transform="translate(997.65,285.13) rotate(-67.5)"/>
<path d="M0,-19.2 L10.5,0.0 L4.85,0.0 L4.85,20.0 L-4.85,20.0 L-4.85,0.0 L-10.5,0.0 Z" fill="#ff0000" transform="translate(1006.20,304.06) rotate(-67.5)"/>
<path d="M0,-19.2 L10.5,0.0 L4.85,0.0 L4.85,20.0 L-4.85,20.0 L-4.85,0.0 L-10.5,0.0 Z" fill="#ff0000" transform="translate(1014.75,304.06) rotate(-67.5)"/>
</g>
<linearGradient id="rg0" gradientUnits="userSpaceOnUse" x1="113.78571428571428" y1="74.4" x2="145.78571428571428" y2="114.4"><stop offset="0" stop-color="#ffee00"/><stop offset="0.55" stop-color="#ffd000"/><stop offset="1" stop-color="#f49c20"/></linearGradient><radialGradient id="dg0" gradientUnits="userSpaceOnUse" cx="129.78571428571428" cy="94.4" r="15.5" fx="124.78571428571428" fy="88.4"><stop offset="0" stop-color="#fff200"/><stop offset="0.4" stop-color="#ffd600"/><stop offset="0.8" stop-color="#ffb60c"/><stop offset="1" stop-color="#f7981c"/></radialGradient><path d="M129.8,67.7L132.8,81.4L126.8,81.4ZM148.7,75.5L141.1,87.3L136.9,83.1ZM156.5,94.4L142.8,97.4L142.8,91.4ZM148.7,113.3L136.9,105.7L141.1,101.5ZM129.8,121.1L126.8,107.4L132.8,107.4ZM110.9,113.3L118.5,101.5L122.7,105.7ZM103.1,94.4L116.8,91.4L116.8,97.4ZM110.9,75.5L122.7,83.1L118.5,87.3ZM139.9,74.5L138.0,84.0L133.4,81.6ZM149.7,84.3L142.5,90.8L140.2,86.2ZM149.7,104.5L140.2,102.6L142.5,98.0ZM139.9,114.3L133.4,107.2L138.0,104.8ZM119.7,114.3L121.6,104.8L126.2,107.2ZM109.9,104.5L117.0,98.0L119.4,102.6ZM109.9,84.3L119.4,86.2L117.0,90.8ZM119.7,74.5L126.2,81.6L121.6,84.0ZM133.8,76.9L134.2,82.1L131.2,81.4ZM139.5,80.5L138.4,84.6L136.1,82.9ZM145.1,84.9L141.6,88.8L140.0,86.2ZM146.5,91.4L142.8,93.5L142.3,90.8ZM147.3,98.4L142.1,98.8L142.8,95.9ZM143.7,104.2L139.6,103.0L141.2,100.7ZM139.3,109.7L135.4,106.2L137.9,104.6ZM132.7,111.1L130.7,107.4L133.4,107.0ZM125.7,111.9L125.4,106.7L128.3,107.4ZM120.0,108.3L121.2,104.2L123.5,105.9ZM114.5,103.9L118.0,100.0L119.6,102.6ZM113.0,97.4L116.7,95.3L117.2,98.0ZM112.2,90.4L117.5,90.0L116.8,92.9ZM115.9,84.6L119.9,85.8L118.3,88.1ZM120.2,79.1L124.2,82.6L121.6,84.2ZM126.8,77.7L128.9,81.4L126.1,81.8Z" transform="translate(0.6,0.7)" fill="#8a5a10" fill-opacity="0.45" filter="url(#isoft)"/><path d="M129.8,67.7L132.8,81.4L126.8,81.4ZM148.7,75.5L141.1,87.3L136.9,83.1ZM156.5,94.4L142.8,97.4L142.8,91.4ZM148.7,113.3L136.9,105.7L141.1,101.5ZM129.8,121.1L126.8,107.4L132.8,107.4ZM110.9,113.3L118.5,101.5L122.7,105.7ZM103.1,94.4L116.8,91.4L116.8,97.4ZM110.9,75.5L122.7,83.1L118.5,87.3ZM139.9,74.5L138.0,84.0L133.4,81.6ZM149.7,84.3L142.5,90.8L140.2,86.2ZM149.7,104.5L140.2,102.6L142.5,98.0ZM139.9,114.3L133.4,107.2L138.0,104.8ZM119.7,114.3L121.6,104.8L126.2,107.2ZM109.9,104.5L117.0,98.0L119.4,102.6ZM109.9,84.3L119.4,86.2L117.0,90.8ZM119.7,74.5L126.2,81.6L121.6,84.0ZM133.8,76.9L134.2,82.1L131.2,81.4ZM139.5,80.5L138.4,84.6L136.1,82.9ZM145.1,84.9L141.6,88.8L140.0,86.2ZM146.5,91.4L142.8,93.5L142.3,90.8ZM147.3,98.4L142.1,98.8L142.8,95.9ZM143.7,104.2L139.6,103.0L141.2,100.7ZM139.3,109.7L135.4,106.2L137.9,104.6ZM132.7,111.1L130.7,107.4L133.4,107.0ZM125.7,111.9L125.4,106.7L128.3,107.4ZM120.0,108.3L121.2,104.2L123.5,105.9ZM114.5,103.9L118.0,100.0L119.6,102.6ZM113.0,97.4L116.7,95.3L117.2,98.0ZM112.2,90.4L117.5,90.0L116.8,92.9ZM115.9,84.6L119.9,85.8L118.3,88.1ZM120.2,79.1L124.2,82.6L121.6,84.2ZM126.8,77.7L128.9,81.4L126.1,81.8Z" fill="url(#rg0)" stroke="#a87820" stroke-width="0.55" stroke-opacity="0.75" filter="url(#isoft)"/><circle cx="129.78571428571428" cy="94.4" r="15.1" fill="url(#dg0)"/>
<radialGradient id="cg0" gradientUnits="userSpaceOnUse" cx="9" cy="-1" r="21" ><stop offset="0" stop-color="#eeeeee"/><stop offset="0.55" stop-color="#dadada"/><stop offset="1" stop-color="#aaaaaa"/></radialGradient><g transform="translate(129.78571428571428,94.4) scale(1.0)"><g fill="#8e8e8e"><circle cx="5.5" cy="1.6" r="9.55"/><circle cx="-4.6" cy="3.6" r="7.1499999999999995"/><circle cx="18.0" cy="1.5" r="8.35"/><circle cx="23.2" cy="3.8" r="5.6499999999999995"/><circle cx="-2.5" cy="8.3" r="7.1499999999999995"/><circle cx="19.5" cy="8.3" r="6.75"/><rect x="-2.5" y="3.0" width="22.0" height="12.55"/></g><g fill="url(#cg0)"><circle cx="5.5" cy="1.6" r="9.0"/><circle cx="-4.6" cy="3.6" r="6.6"/><circle cx="18.0" cy="1.5" r="7.8"/><circle cx="23.2" cy="3.8" r="5.1"/><circle cx="-2.5" cy="8.3" r="6.6"/><circle cx="19.5" cy="8.3" r="6.2"/><rect x="-2.5" y="3.0" width="22.0" height="12.0"/></g></g>
<linearGradient id="rg1" gradientUnits="userSpaceOnUse" x1="250.3571428571429" y1="74.4" x2="282.3571428571429" y2="114.4"><stop offset="0" stop-color="#ffee00"/><stop offset="0.55" stop-color="#ffd000"/><stop offset="1" stop-color="#f49c20"/></linearGradient><radialGradient id="dg1" gradientUnits="userSpaceOnUse" cx="266.3571428571429" cy="94.4" r="15.5" fx="261.3571428571429" fy="88.4"><stop offset="0" stop-color="#fff200"/><stop offset="0.4" stop-color="#ffd600"/><stop offset="0.8" stop-color="#ffb60c"/><stop offset="1" stop-color="#f7981c"/></radialGradient><path d="M266.4,67.7L269.4,81.4L263.4,81.4ZM285.2,75.5L277.7,87.3L273.4,83.1ZM293.1,94.4L279.4,97.4L279.4,91.4ZM285.2,113.3L273.4,105.7L277.7,101.5ZM266.4,121.1L263.4,107.4L269.4,107.4ZM247.5,113.3L255.0,101.5L259.3,105.7ZM239.7,94.4L253.4,91.4L253.4,97.4ZM247.5,75.5L259.3,83.1L255.0,87.3ZM276.5,74.5L274.6,84.0L269.9,81.6ZM286.2,84.3L279.1,90.8L276.8,86.2ZM286.2,104.5L276.8,102.6L279.1,98.0ZM276.5,114.3L269.9,107.2L274.6,104.8ZM256.2,114.3L258.1,104.8L262.8,107.2ZM246.5,104.5L253.6,98.0L256.0,102.6ZM246.5,84.3L256.0,86.2L253.6,90.8ZM256.2,74.5L262.8,81.6L258.1,84.0ZM270.4,76.9L270.7,82.1L267.8,81.4ZM276.1,80.5L275.0,84.6L272.7,82.9ZM281.6,84.9L278.2,88.8L276.6,86.2ZM283.1,91.4L279.4,93.5L278.9,90.8ZM283.9,98.4L278.7,98.8L279.4,95.9ZM280.3,104.2L276.2,103.0L277.8,100.7ZM275.9,109.7L272.0,106.2L274.5,104.6ZM269.3,111.1L267.2,107.4L270.0,107.0ZM262.3,111.9L262.0,106.7L264.9,107.4ZM256.6,108.3L257.8,104.2L260.0,105.9ZM251.1,103.9L254.5,100.0L256.1,102.6ZM249.6,97.4L253.3,95.3L253.8,98.0ZM248.8,90.4L254.0,90.0L253.4,92.9ZM252.4,84.6L256.5,85.8L254.9,88.1ZM256.8,79.1L260.7,82.6L258.2,84.2ZM263.4,77.7L265.5,81.4L262.7,81.8Z" transform="translate(0.6,0.7)" fill="#8a5a10" fill-opacity="0.45" filter="url(#isoft)"/><path d="M266.4,67.7L269.4,81.4L263.4,81.4ZM285.2,75.5L277.7,87.3L273.4,83.1ZM293.1,94.4L279.4,97.4L279.4,91.4ZM285.2,113.3L273.4,105.7L277.7,101.5ZM266.4,121.1L263.4,107.4L269.4,107.4ZM247.5,113.3L255.0,101.5L259.3,105.7ZM239.7,94.4L253.4,91.4L253.4,97.4ZM247.5,75.5L259.3,83.1L255.0,87.3ZM276.5,74.5L274.6,84.0L269.9,81.6ZM286.2,84.3L279.1,90.8L276.8,86.2ZM286.2,104.5L276.8,102.6L279.1,98.0ZM276.5,114.3L269.9,107.2L274.6,104.8ZM256.2,114.3L258.1,104.8L262.8,107.2ZM246.5,104.5L253.6,98.0L256.0,102.6ZM246.5,84.3L256.0,86.2L253.6,90.8ZM256.2,74.5L262.8,81.6L258.1,84.0ZM270.4,76.9L270.7,82.1L267.8,81.4ZM276.1,80.5L275.0,84.6L272.7,82.9ZM281.6,84.9L278.2,88.8L276.6,86.2ZM283.1,91.4L279.4,93.5L278.9,90.8ZM283.9,98.4L278.7,98.8L279.4,95.9ZM280.3,104.2L276.2,103.0L277.8,100.7ZM275.9,109.7L272.0,106.2L274.5,104.6ZM269.3,111.1L267.2,107.4L270.0,107.0ZM262.3,111.9L262.0,106.7L264.9,107.4ZM256.6,108.3L257.8,104.2L260.0,105.9ZM251.1,103.9L254.5,100.0L256.1,102.6ZM249.6,97.4L253.3,95.3L253.8,98.0ZM248.8,90.4L254.0,90.0L253.4,92.9ZM252.4,84.6L256.5,85.8L254.9,88.1ZM256.8,79.1L260.7,82.6L258.2,84.2ZM263.4,77.7L265.5,81.4L262.7,81.8Z" fill="url(#rg1)" stroke="#a87820" stroke-width="0.55" stroke-opacity="0.75" filter="url(#isoft)"/><circle cx="266.3571428571429" cy="94.4" r="15.1" fill="url(#dg1)"/>
<radialGradient id="cg2a" gradientUnits="userSpaceOnUse" cx="9" cy="-1" r="21" ><stop offset="0" stop-color="#eeeeee"/><stop offset="0.55" stop-color="#dadada"/><stop offset="1" stop-color="#aaaaaa"/></radialGradient><g transform="translate(385.92857142857144,87.0) scale(1.0)"><g fill="#8e8e8e"><circle cx="5.5" cy="1.6" r="9.55"/><circle cx="-4.6" cy="3.6" r="7.1499999999999995"/><circle cx="18.0" cy="1.5" r="8.35"/><circle cx="23.2" cy="3.8" r="5.6499999999999995"/><circle cx="-2.5" cy="8.3" r="7.1499999999999995"/><circle cx="19.5" cy="8.3" r="6.75"/><rect x="-2.5" y="3.0" width="22.0" height="12.55"/></g><g fill="url(#cg2a)"><circle cx="5.5" cy="1.6" r="9.0"/><circle cx="-4.6" cy="3.6" r="6.6"/><circle cx="18.0" cy="1.5" r="7.8"/><circle cx="23.2" cy="3.8" r="5.1"/><circle cx="-2.5" cy="8.3" r="6.6"/><circle cx="19.5" cy="8.3" r="6.2"/><rect x="-2.5" y="3.0" width="22.0" height="12.0"/></g></g>
<radialGradient id="cg2b" gradientUnits="userSpaceOnUse" cx="9" cy="-1" r="21" ><stop offset="0" stop-color="#eeeeee"/><stop offset="0.55" stop-color="#dadada"/><stop offset="1" stop-color="#aaaaaa"/></radialGradient><g transform="translate(402.42857142857144,94.2) scale(1.0)"><g fill="#8e8e8e"><circle cx="5.5" cy="1.6" r="9.55"/><circle cx="-4.6" cy="3.6" r="7.1499999999999995"/><circle cx="18.0" cy="1.5" r="8.35"/><circle cx="23.2" cy="3.8" r="5.6499999999999995"/><circle cx="-2.5" cy="8.3" r="7.1499999999999995"/><circle cx="19.5" cy="8.3" r="6.75"/><rect x="-2.5" y="3.0" width="22.0" height="12.55"/></g><g fill="url(#cg2b)"><circle cx="5.5" cy="1.6" r="9.0"/><circle cx="-4.6" cy="3.6" r="6.6"/><circle cx="18.0" cy="1.5" r="7.8"/><circle cx="23.2" cy="3.8" r="5.1"/><circle cx="-2.5" cy="8.3" r="6.6"/><circle cx="19.5" cy="8.3" r="6.2"/><rect x="-2.5" y="3.0" width="22.0" height="12.0"/></g></g>
<linearGradient id="rg3" gradientUnits="userSpaceOnUse" x1="523.5" y1="74.4" x2="555.5" y2="114.4"><stop offset="0" stop-color="#ffee00"/><stop offset="0.55" stop-color="#ffd000"/><stop offset="1" stop-color="#f49c20"/></linearGradient><radialGradient id="dg3" gradientUnits="userSpaceOnUse" cx="539.5" cy="94.4" r="15.5" fx="534.5" fy="88.4"><stop offset="0" stop-color="#fff200"/><stop offset="0.4" stop-color="#ffd600"/><stop offset="0.8" stop-color="#ffb60c"/><stop offset="1" stop-color="#f7981c"/></radialGradient><path d="M539.5,67.7L542.5,81.4L536.5,81.4ZM558.4,75.5L550.8,87.3L546.6,83.1ZM566.2,94.4L552.5,97.4L552.5,91.4ZM558.4,113.3L546.6,105.7L550.8,101.5ZM539.5,121.1L536.5,107.4L542.5,107.4ZM520.6,113.3L528.2,101.5L532.4,105.7ZM512.8,94.4L526.5,91.4L526.5,97.4ZM520.6,75.5L532.4,83.1L528.2,87.3ZM549.6,74.5L547.7,84.0L543.1,81.6ZM559.4,84.3L552.3,90.8L549.9,86.2ZM559.4,104.5L549.9,102.6L552.3,98.0ZM549.6,114.3L543.1,107.2L547.7,104.8ZM529.4,114.3L531.3,104.8L535.9,107.2ZM519.6,104.5L526.7,98.0L529.1,102.6ZM519.6,84.3L529.1,86.2L526.7,90.8ZM529.4,74.5L535.9,81.6L531.3,84.0ZM543.5,76.9L543.9,82.1L541.0,81.4ZM549.3,80.5L548.1,84.6L545.8,82.9ZM554.8,84.9L551.3,88.8L549.7,86.2ZM556.2,91.4L552.5,93.5L552.1,90.8ZM557.0,98.4L551.8,98.8L552.5,95.9ZM553.4,104.2L549.3,103.0L551.0,100.7ZM549.0,109.7L545.1,106.2L547.7,104.6ZM542.5,111.1L540.4,107.4L543.1,107.0ZM535.5,111.9L535.1,106.7L538.0,107.4ZM529.7,108.3L530.9,104.2L533.2,105.9ZM524.2,103.9L527.7,100.0L529.3,102.6ZM522.8,97.4L526.5,95.3L526.9,98.0ZM522.0,90.4L527.2,90.0L526.5,92.9ZM525.6,84.6L529.7,85.8L528.0,88.1ZM530.0,79.1L533.9,82.6L531.3,84.2ZM536.5,77.7L538.6,81.4L535.9,81.8Z" transform="translate(0.6,0.7)" fill="#8a5a10" fill-opacity="0.45" filter="url(#isoft)"/><path d="M539.5,67.7L542.5,81.4L536.5,81.4ZM558.4,75.5L550.8,87.3L546.6,83.1ZM566.2,94.4L552.5,97.4L552.5,91.4ZM558.4,113.3L546.6,105.7L550.8,101.5ZM539.5,121.1L536.5,107.4L542.5,107.4ZM520.6,113.3L528.2,101.5L532.4,105.7ZM512.8,94.4L526.5,91.4L526.5,97.4ZM520.6,75.5L532.4,83.1L528.2,87.3ZM549.6,74.5L547.7,84.0L543.1,81.6ZM559.4,84.3L552.3,90.8L549.9,86.2ZM559.4,104.5L549.9,102.6L552.3,98.0ZM549.6,114.3L543.1,107.2L547.7,104.8ZM529.4,114.3L531.3,104.8L535.9,107.2ZM519.6,104.5L526.7,98.0L529.1,102.6ZM519.6,84.3L529.1,86.2L526.7,90.8ZM529.4,74.5L535.9,81.6L531.3,84.0ZM543.5,76.9L543.9,82.1L541.0,81.4ZM549.3,80.5L548.1,84.6L545.8,82.9ZM554.8,84.9L551.3,88.8L549.7,86.2ZM556.2,91.4L552.5,93.5L552.1,90.8ZM557.0,98.4L551.8,98.8L552.5,95.9ZM553.4,104.2L549.3,103.0L551.0,100.7ZM549.0,109.7L545.1,106.2L547.7,104.6ZM542.5,111.1L540.4,107.4L543.1,107.0ZM535.5,111.9L535.1,106.7L538.0,107.4ZM529.7,108.3L530.9,104.2L533.2,105.9ZM524.2,103.9L527.7,100.0L529.3,102.6ZM522.8,97.4L526.5,95.3L526.9,98.0ZM522.0,90.4L527.2,90.0L526.5,92.9ZM525.6,84.6L529.7,85.8L528.0,88.1ZM530.0,79.1L533.9,82.6L531.3,84.2ZM536.5,77.7L538.6,81.4L535.9,81.8Z" fill="url(#rg3)" stroke="#a87820" stroke-width="0.55" stroke-opacity="0.75" filter="url(#isoft)"/><circle cx="539.5" cy="94.4" r="15.1" fill="url(#dg3)"/>
<radialGradient id="rd3a" gradientUnits="userSpaceOnUse" cx="543.9" cy="116.4" r="4.2"><stop offset="0" stop-color="#c4efff"/><stop offset="0.45" stop-color="#3cbcf6"/><stop offset="1" stop-color="#0f86cc"/></radialGradient><path d="M540.9,110.60000000000001 C543.6,112.2 546.7,114.4 546.5,116.8 C546.3000000000001,119.0 543.9,119.8 541.9,118.8 C539.7,117.60000000000001 539.9,114.2 540.9,110.60000000000001 Z" fill="url(#rd3a)" stroke="#1b8fd0" stroke-width="0.4"/>
<radialGradient id="rd3b" gradientUnits="userSpaceOnUse" cx="556.9" cy="116.00000000000001" r="4.2"><stop offset="0" stop-color="#c4efff"/><stop offset="0.45" stop-color="#3cbcf6"/><stop offset="1" stop-color="#0f86cc"/></radialGradient><path d="M553.9,110.20000000000002 C556.6,111.80000000000001 559.7,114.00000000000001 559.5,116.4 C559.3000000000001,118.60000000000001 556.9,119.4 554.9,118.4 C552.7,117.20000000000002 552.9,113.80000000000001 553.9,110.20000000000002 Z" fill="url(#rd3b)" stroke="#1b8fd0" stroke-width="0.4"/>
<radialGradient id="cg3" gradientUnits="userSpaceOnUse" cx="9" cy="-1" r="21" ><stop offset="0" stop-color="#eeeeee"/><stop offset="0.55" stop-color="#dadada"/><stop offset="1" stop-color="#aaaaaa"/></radialGradient><g transform="translate(539.5,94.4) scale(1.0)"><g fill="#8e8e8e"><circle cx="5.5" cy="1.6" r="9.55"/><circle cx="-4.6" cy="3.6" r="7.1499999999999995"/><circle cx="18.0" cy="1.5" r="8.35"/><circle cx="23.2" cy="3.8" r="5.6499999999999995"/><circle cx="-2.5" cy="8.3" r="7.1499999999999995"/><circle cx="19.5" cy="8.3" r="6.75"/><rect x="-2.5" y="3.0" width="22.0" height="12.55"/></g><g fill="url(#cg3)"><circle cx="5.5" cy="1.6" r="9.0"/><circle cx="-4.6" cy="3.6" r="6.6"/><circle cx="18.0" cy="1.5" r="7.8"/><circle cx="23.2" cy="3.8" r="5.1"/><circle cx="-2.5" cy="8.3" r="6.6"/><circle cx="19.5" cy="8.3" r="6.2"/><rect x="-2.5" y="3.0" width="22.0" height="12.0"/></g></g>
<linearGradient id="rg4" gradientUnits="userSpaceOnUse" x1="660.0714285714287" y1="74.4" x2="692.0714285714287" y2="114.4"><stop offset="0" stop-color="#ffee00"/><stop offset="0.55" stop-color="#ffd000"/><stop offset="1" stop-color="#f49c20"/></linearGradient><radialGradient id="dg4" gradientUnits="userSpaceOnUse" cx="676.0714285714287" cy="94.4" r="15.5" fx="671.0714285714287" fy="88.4"><stop offset="0" stop-color="#fff200"/><stop offset="0.4" stop-color="#ffd600"/><stop offset="0.8" stop-color="#ffb60c"/><stop offset="1" stop-color="#f7981c"/></radialGradient><path d="M676.1,67.7L679.1,81.4L673.1,81.4ZM695.0,75.5L687.4,87.3L683.1,83.1ZM702.8,94.4L689.1,97.4L689.1,91.4ZM695.0,113.3L683.1,105.7L687.4,101.5ZM676.1,121.1L673.1,107.4L679.1,107.4ZM657.2,113.3L664.8,101.5L669.0,105.7ZM649.4,94.4L663.1,91.4L663.1,97.4ZM657.2,75.5L669.0,83.1L664.8,87.3ZM686.2,74.5L684.3,84.0L679.7,81.6ZM695.9,84.3L688.8,90.8L686.5,86.2ZM695.9,104.5L686.5,102.6L688.8,98.0ZM686.2,114.3L679.7,107.2L684.3,104.8ZM665.9,114.3L667.9,104.8L672.5,107.2ZM656.2,104.5L663.3,98.0L665.7,102.6ZM656.2,84.3L665.7,86.2L663.3,90.8ZM665.9,74.5L672.5,81.6L667.9,84.0ZM680.1,76.9L680.5,82.1L677.5,81.4ZM685.8,80.5L684.7,84.6L682.4,82.9ZM691.3,84.9L687.9,88.8L686.3,86.2ZM692.8,91.4L689.1,93.5L688.6,90.8ZM693.6,98.4L688.4,98.8L689.1,95.9ZM690.0,104.2L685.9,103.0L687.5,100.7ZM685.6,109.7L681.7,106.2L684.2,104.6ZM679.0,111.1L677.0,107.4L679.7,107.0ZM672.0,111.9L671.7,106.7L674.6,107.4ZM666.3,108.3L667.5,104.2L669.8,105.9ZM660.8,103.9L664.3,100.0L665.8,102.6ZM659.3,97.4L663.0,95.3L663.5,98.0ZM658.5,90.4L663.7,90.0L663.1,92.9ZM662.1,84.6L666.2,85.8L664.6,88.1ZM666.5,79.1L670.5,82.6L667.9,84.2ZM673.1,77.7L675.2,81.4L672.4,81.8Z" transform="translate(0.6,0.7)" fill="#8a5a10" fill-opacity="0.45" filter="url(#isoft)"/><path d="M676.1,67.7L679.1,81.4L673.1,81.4ZM695.0,75.5L687.4,87.3L683.1,83.1ZM702.8,94.4L689.1,97.4L689.1,91.4ZM695.0,113.3L683.1,105.7L687.4,101.5ZM676.1,121.1L673.1,107.4L679.1,107.4ZM657.2,113.3L664.8,101.5L669.0,105.7ZM649.4,94.4L663.1,91.4L663.1,97.4ZM657.2,75.5L669.0,83.1L664.8,87.3ZM686.2,74.5L684.3,84.0L679.7,81.6ZM695.9,84.3L688.8,90.8L686.5,86.2ZM695.9,104.5L686.5,102.6L688.8,98.0ZM686.2,114.3L679.7,107.2L684.3,104.8ZM665.9,114.3L667.9,104.8L672.5,107.2ZM656.2,104.5L663.3,98.0L665.7,102.6ZM656.2,84.3L665.7,86.2L663.3,90.8ZM665.9,74.5L672.5,81.6L667.9,84.0ZM680.1,76.9L680.5,82.1L677.5,81.4ZM685.8,80.5L684.7,84.6L682.4,82.9ZM691.3,84.9L687.9,88.8L686.3,86.2ZM692.8,91.4L689.1,93.5L688.6,90.8ZM693.6,98.4L688.4,98.8L689.1,95.9ZM690.0,104.2L685.9,103.0L687.5,100.7ZM685.6,109.7L681.7,106.2L684.2,104.6ZM679.0,111.1L677.0,107.4L679.7,107.0ZM672.0,111.9L671.7,106.7L674.6,107.4ZM666.3,108.3L667.5,104.2L669.8,105.9ZM660.8,103.9L664.3,100.0L665.8,102.6ZM659.3,97.4L663.0,95.3L663.5,98.0ZM658.5,90.4L663.7,90.0L663.1,92.9ZM662.1,84.6L666.2,85.8L664.6,88.1ZM666.5,79.1L670.5,82.6L667.9,84.2ZM673.1,77.7L675.2,81.4L672.4,81.8Z" fill="url(#rg4)" stroke="#a87820" stroke-width="0.55" stroke-opacity="0.75" filter="url(#isoft)"/><circle cx="676.0714285714287" cy="94.4" r="15.1" fill="url(#dg4)"/>
<radialGradient id="cg4" gradientUnits="userSpaceOnUse" cx="3" cy="-3" r="27" ><stop offset="0" stop-color="#e8e8e8"/><stop offset="0.55" stop-color="#c8c8c8"/><stop offset="1" stop-color="#989898"/></radialGradient><g transform="translate(676.0714285714287,92.9) scale(1.0)"><g fill="#868686"><circle cx="5.5" cy="1.6" r="9.55"/><circle cx="-4.6" cy="3.6" r="7.1499999999999995"/><circle cx="18.0" cy="1.5" r="8.35"/><circle cx="23.2" cy="3.8" r="5.6499999999999995"/><circle cx="-2.5" cy="8.3" r="7.1499999999999995"/><circle cx="19.5" cy="8.3" r="6.75"/><rect x="-2.5" y="3.0" width="22.0" height="12.55"/></g><g fill="url(#cg4)"><circle cx="5.5" cy="1.6" r="9.0"/><circle cx="-4.6" cy="3.6" r="6.6"/><circle cx="18.0" cy="1.5" r="7.8"/><circle cx="23.2" cy="3.8" r="5.1"/><circle cx="-2.5" cy="8.3" r="6.6"/><circle cx="19.5" cy="8.3" r="6.2"/><rect x="-2.5" y="3.0" width="22.0" height="12.0"/></g></g>
<radialGradient id="rd40" gradientUnits="userSpaceOnUse" cx="672.1714285714286" cy="107.80000000000001" r="4.2"><stop offset="0" stop-color="#c4efff"/><stop offset="0.45" stop-color="#3cbcf6"/><stop offset="1" stop-color="#0f86cc"/></radialGradient><path d="M669.1714285714286,102.00000000000001 C671.8714285714286,103.60000000000001 674.9714285714286,105.80000000000001 674.7714285714286,108.2 C674.5714285714287,110.4 672.1714285714286,111.2 670.1714285714286,110.2 C667.9714285714286,109.00000000000001 668.1714285714286,105.60000000000001 669.1714285714286,102.00000000000001 Z" fill="url(#rd40)" stroke="#1b8fd0" stroke-width="0.4"/>
<radialGradient id="rd41" gradientUnits="userSpaceOnUse" cx="685.6714285714286" cy="107.80000000000001" r="4.2"><stop offset="0" stop-color="#c4efff"/><stop offset="0.45" stop-color="#3cbcf6"/><stop offset="1" stop-color="#0f86cc"/></radialGradient><path d="M682.6714285714286,102.00000000000001 C685.3714285714286,103.60000000000001 688.4714285714286,105.80000000000001 688.2714285714286,108.2 C688.0714285714287,110.4 685.6714285714286,111.2 683.6714285714286,110.2 C681.4714285714286,109.00000000000001 681.6714285714286,105.60000000000001 682.6714285714286,102.00000000000001 Z" fill="url(#rd41)" stroke="#1b8fd0" stroke-width="0.4"/>
<radialGradient id="rd42" gradientUnits="userSpaceOnUse" cx="700.1714285714286" cy="107.80000000000001" r="4.2"><stop offset="0" stop-color="#c4efff"/><stop offset="0.45" stop-color="#3cbcf6"/><stop offset="1" stop-color="#0f86cc"/></radialGradient><path d="M697.1714285714286,102.00000000000001 C699.8714285714286,103.60000000000001 702.9714285714286,105.80000000000001 702.7714285714286,108.2 C702.5714285714287,110.4 700.1714285714286,111.2 698.1714285714286,110.2 C695.9714285714286,109.00000000000001 696.1714285714286,105.60000000000001 697.1714285714286,102.00000000000001 Z" fill="url(#rd42)" stroke="#1b8fd0" stroke-width="0.4"/>
<radialGradient id="rd43" gradientUnits="userSpaceOnUse" cx="679.0714285714287" cy="118.10000000000001" r="4.2"><stop offset="0" stop-color="#c4efff"/><stop offset="0.45" stop-color="#3cbcf6"/><stop offset="1" stop-color="#0f86cc"/></radialGradient><path d="M676.0714285714287,112.30000000000001 C678.7714285714287,113.9 681.8714285714287,116.10000000000001 681.6714285714287,118.5 C681.4714285714288,120.7 679.0714285714287,121.5 677.0714285714287,120.5 C674.8714285714287,119.30000000000001 675.0714285714287,115.9 676.0714285714287,112.30000000000001 Z" fill="url(#rd43)" stroke="#1b8fd0" stroke-width="0.4"/>
<radialGradient id="rd44" gradientUnits="userSpaceOnUse" cx="692.3714285714286" cy="118.10000000000001" r="4.2"><stop offset="0" stop-color="#c4efff"/><stop offset="0.45" stop-color="#3cbcf6"/><stop offset="1" stop-color="#0f86cc"/></radialGradient><path d="M689.3714285714286,112.30000000000001 C692.0714285714287,113.9 695.1714285714287,116.10000000000001 694.9714285714286,118.5 C694.7714285714287,120.7 692.3714285714286,121.5 690.3714285714286,120.5 C688.1714285714287,119.30000000000001 688.3714285714286,115.9 689.3714285714286,112.30000000000001 Z" fill="url(#rd44)" stroke="#1b8fd0" stroke-width="0.4"/>
<linearGradient id="rg5" gradientUnits="userSpaceOnUse" x1="796.6428571428572" y1="74.4" x2="828.6428571428572" y2="114.4"><stop offset="0" stop-color="#ffee00"/><stop offset="0.55" stop-color="#ffd000"/><stop offset="1" stop-color="#f49c20"/></linearGradient><radialGradient id="dg5" gradientUnits="userSpaceOnUse" cx="812.6428571428572" cy="94.4" r="15.5" fx="807.6428571428572" fy="88.4"><stop offset="0" stop-color="#fff200"/><stop offset="0.4" stop-color="#ffd600"/><stop offset="0.8" stop-color="#ffb60c"/><stop offset="1" stop-color="#f7981c"/></radialGradient><path d="M812.6,67.7L815.6,81.4L809.6,81.4ZM831.5,75.5L824.0,87.3L819.7,83.1ZM839.3,94.4L825.6,97.4L825.6,91.4ZM831.5,113.3L819.7,105.7L824.0,101.5ZM812.6,121.1L809.6,107.4L815.6,107.4ZM793.8,113.3L801.3,101.5L805.6,105.7ZM785.9,94.4L799.6,91.4L799.6,97.4ZM793.8,75.5L805.6,83.1L801.3,87.3ZM822.8,74.5L820.9,84.0L816.2,81.6ZM832.5,84.3L825.4,90.8L823.0,86.2ZM832.5,104.5L823.0,102.6L825.4,98.0ZM822.8,114.3L816.2,107.2L820.9,104.8ZM802.5,114.3L804.4,104.8L809.1,107.2ZM792.8,104.5L799.9,98.0L802.2,102.6ZM792.8,84.3L802.2,86.2L799.9,90.8ZM802.5,74.5L809.1,81.6L804.4,84.0ZM816.7,76.9L817.0,82.1L814.1,81.4ZM822.4,80.5L821.2,84.6L819.0,82.9ZM827.9,84.9L824.5,88.8L822.9,86.2ZM829.4,91.4L825.7,93.5L825.2,90.8ZM830.2,98.4L825.0,98.8L825.6,95.9ZM826.6,104.2L822.5,103.0L824.1,100.7ZM822.2,109.7L818.3,106.2L820.8,104.6ZM815.6,111.1L813.5,107.4L816.3,107.0ZM808.6,111.9L808.3,106.7L811.2,107.4ZM802.9,108.3L804.0,104.2L806.3,105.9ZM797.4,103.9L800.8,100.0L802.4,102.6ZM795.9,97.4L799.6,95.3L800.1,98.0ZM795.1,90.4L800.3,90.0L799.6,92.9ZM798.7,84.6L802.8,85.8L801.2,88.1ZM803.1,79.1L807.0,82.6L804.5,84.2ZM809.7,77.7L811.8,81.4L809.0,81.8Z" transform="translate(0.6,0.7)" fill="#8a5a10" fill-opacity="0.45" filter="url(#isoft)"/><path d="M812.6,67.7L815.6,81.4L809.6,81.4ZM831.5,75.5L824.0,87.3L819.7,83.1ZM839.3,94.4L825.6,97.4L825.6,91.4ZM831.5,113.3L819.7,105.7L824.0,101.5ZM812.6,121.1L809.6,107.4L815.6,107.4ZM793.8,113.3L801.3,101.5L805.6,105.7ZM785.9,94.4L799.6,91.4L799.6,97.4ZM793.8,75.5L805.6,83.1L801.3,87.3ZM822.8,74.5L820.9,84.0L816.2,81.6ZM832.5,84.3L825.4,90.8L823.0,86.2ZM832.5,104.5L823.0,102.6L825.4,98.0ZM822.8,114.3L816.2,107.2L820.9,104.8ZM802.5,114.3L804.4,104.8L809.1,107.2ZM792.8,104.5L799.9,98.0L802.2,102.6ZM792.8,84.3L802.2,86.2L799.9,90.8ZM802.5,74.5L809.1,81.6L804.4,84.0ZM816.7,76.9L817.0,82.1L814.1,81.4ZM822.4,80.5L821.2,84.6L819.0,82.9ZM827.9,84.9L824.5,88.8L822.9,86.2ZM829.4,91.4L825.7,93.5L825.2,90.8ZM830.2,98.4L825.0,98.8L825.6,95.9ZM826.6,104.2L822.5,103.0L824.1,100.7ZM822.2,109.7L818.3,106.2L820.8,104.6ZM815.6,111.1L813.5,107.4L816.3,107.0ZM808.6,111.9L808.3,106.7L811.2,107.4ZM802.9,108.3L804.0,104.2L806.3,105.9ZM797.4,103.9L800.8,100.0L802.4,102.6ZM795.9,97.4L799.6,95.3L800.1,98.0ZM795.1,90.4L800.3,90.0L799.6,92.9ZM798.7,84.6L802.8,85.8L801.2,88.1ZM803.1,79.1L807.0,82.6L804.5,84.2ZM809.7,77.7L811.8,81.4L809.0,81.8Z" fill="url(#rg5)" stroke="#a87820" stroke-width="0.55" stroke-opacity="0.75" filter="url(#isoft)"/><circle cx="812.6428571428572" cy="94.4" r="15.1" fill="url(#dg5)"/>
<radialGradient id="cg5" gradientUnits="userSpaceOnUse" cx="9" cy="-1" r="21" ><stop offset="0" stop-color="#eeeeee"/><stop offset="0.55" stop-color="#dadada"/><stop offset="1" stop-color="#aaaaaa"/></radialGradient><g transform="translate(812.6428571428572,94.4) scale(1.0)"><g fill="#8e8e8e"><circle cx="5.5" cy="1.6" r="9.55"/><circle cx="-4.6" cy="3.6" r="7.1499999999999995"/><circle cx="18.0" cy="1.5" r="8.35"/><circle cx="23.2" cy="3.8" r="5.6499999999999995"/><circle cx="-2.5" cy="8.3" r="7.1499999999999995"/><circle cx="19.5" cy="8.3" r="6.75"/><rect x="-2.5" y="3.0" width="22.0" height="12.55"/></g><g fill="url(#cg5)"><circle cx="5.5" cy="1.6" r="9.0"/><circle cx="-4.6" cy="3.6" r="6.6"/><circle cx="18.0" cy="1.5" r="7.8"/><circle cx="23.2" cy="3.8" r="5.1"/><circle cx="-2.5" cy="8.3" r="6.6"/><circle cx="19.5" cy="8.3" r="6.2"/><rect x="-2.5" y="3.0" width="22.0" height="12.0"/></g></g>
<linearGradient id="rg6" gradientUnits="userSpaceOnUse" x1="933.2142857142858" y1="74.4" x2="965.2142857142858" y2="114.4"><stop offset="0" stop-color="#ffee00"/><stop offset="0.55" stop-color="#ffd000"/><stop offset="1" stop-color="#f49c20"/></linearGradient><radialGradient id="dg6" gradientUnits="userSpaceOnUse" cx="949.2142857142858" cy="94.4" r="15.5" fx="944.2142857142858" fy="88.4"><stop offset="0" stop-color="#fff200"/><stop offset="0.4" stop-color="#ffd600"/><stop offset="0.8" stop-color="#ffb60c"/><stop offset="1" stop-color="#f7981c"/></radialGradient><path d="M949.2,67.7L952.2,81.4L946.2,81.4ZM968.1,75.5L960.5,87.3L956.3,83.1ZM975.9,94.4L962.2,97.4L962.2,91.4ZM968.1,113.3L956.3,105.7L960.5,101.5ZM949.2,121.1L946.2,107.4L952.2,107.4ZM930.3,113.3L937.9,101.5L942.1,105.7ZM922.5,94.4L936.2,91.4L936.2,97.4ZM930.3,75.5L942.1,83.1L937.9,87.3ZM959.3,74.5L957.4,84.0L952.8,81.6ZM969.1,84.3L962.0,90.8L959.6,86.2ZM969.1,104.5L959.6,102.6L962.0,98.0ZM959.3,114.3L952.8,107.2L957.4,104.8ZM939.1,114.3L941.0,104.8L945.6,107.2ZM929.3,104.5L936.5,98.0L938.8,102.6ZM929.3,84.3L938.8,86.2L936.5,90.8ZM939.1,74.5L945.6,81.6L941.0,84.0ZM953.3,76.9L953.6,82.1L950.7,81.4ZM959.0,80.5L957.8,84.6L955.5,82.9ZM964.5,84.9L961.0,88.8L959.4,86.2ZM966.0,91.4L962.3,93.5L961.8,90.8ZM966.8,98.4L961.5,98.8L962.2,95.9ZM963.1,104.2L959.1,103.0L960.7,100.7ZM958.8,109.7L954.8,106.2L957.4,104.6ZM952.2,111.1L950.1,107.4L952.9,107.0ZM945.2,111.9L944.8,106.7L947.8,107.4ZM939.5,108.3L940.6,104.2L942.9,105.9ZM933.9,103.9L937.4,100.0L939.0,102.6ZM932.5,97.4L936.2,95.3L936.7,98.0ZM931.7,90.4L936.9,90.0L936.2,92.9ZM935.3,84.6L939.4,85.8L937.8,88.1ZM939.7,79.1L943.6,82.6L941.1,84.2ZM946.3,77.7L948.3,81.4L945.6,81.8Z" transform="translate(0.6,0.7)" fill="#8a5a10" fill-opacity="0.45" filter="url(#isoft)"/><path d="M949.2,67.7L952.2,81.4L946.2,81.4ZM968.1,75.5L960.5,87.3L956.3,83.1ZM975.9,94.4L962.2,97.4L962.2,91.4ZM968.1,113.3L956.3,105.7L960.5,101.5ZM949.2,121.1L946.2,107.4L952.2,107.4ZM930.3,113.3L937.9,101.5L942.1,105.7ZM922.5,94.4L936.2,91.4L936.2,97.4ZM930.3,75.5L942.1,83.1L937.9,87.3ZM959.3,74.5L957.4,84.0L952.8,81.6ZM969.1,84.3L962.0,90.8L959.6,86.2ZM969.1,104.5L959.6,102.6L962.0,98.0ZM959.3,114.3L952.8,107.2L957.4,104.8ZM939.1,114.3L941.0,104.8L945.6,107.2ZM929.3,104.5L936.5,98.0L938.8,102.6ZM929.3,84.3L938.8,86.2L936.5,90.8ZM939.1,74.5L945.6,81.6L941.0,84.0ZM953.3,76.9L953.6,82.1L950.7,81.4ZM959.0,80.5L957.8,84.6L955.5,82.9ZM964.5,84.9L961.0,88.8L959.4,86.2ZM966.0,91.4L962.3,93.5L961.8,90.8ZM966.8,98.4L961.5,98.8L962.2,95.9ZM963.1,104.2L959.1,103.0L960.7,100.7ZM958.8,109.7L954.8,106.2L957.4,104.6ZM952.2,111.1L950.1,107.4L952.9,107.0ZM945.2,111.9L944.8,106.7L947.8,107.4ZM939.5,108.3L940.6,104.2L942.9,105.9ZM933.9,103.9L937.4,100.0L939.0,102.6ZM932.5,97.4L936.2,95.3L936.7,98.0ZM931.7,90.4L936.9,90.0L936.2,92.9ZM935.3,84.6L939.4,85.8L937.8,88.1ZM939.7,79.1L943.6,82.6L941.1,84.2ZM946.3,77.7L948.3,81.4L945.6,81.8Z" fill="url(#rg6)" stroke="#a87820" stroke-width="0.55" stroke-opacity="0.75" filter="url(#isoft)"/><circle cx="949.2142857142858" cy="94.4" r="15.1" fill="url(#dg6)"/>
<radialGradient id="cg6" gradientUnits="userSpaceOnUse" cx="9" cy="-1" r="21" ><stop offset="0" stop-color="#eeeeee"/><stop offset="0.55" stop-color="#dadada"/><stop offset="1" stop-color="#aaaaaa"/></radialGradient><g transform="translate(949.2142857142858,94.4) scale(1.0)"><g fill="#8e8e8e"><circle cx="5.5" cy="1.6" r="9.55"/><circle cx="-4.6" cy="3.6" r="7.1499999999999995"/><circle cx="18.0" cy="1.5" r="8.35"/><circle cx="23.2" cy="3.8" r="5.6499999999999995"/><circle cx="-2.5" cy="8.3" r="7.1499999999999995"/><circle cx="19.5" cy="8.3" r="6.75"/><rect x="-2.5" y="3.0" width="22.0" height="12.55"/></g><g fill="url(#cg6)"><circle cx="5.5" cy="1.6" r="9.0"/><circle cx="-4.6" cy="3.6" r="6.6"/><circle cx="18.0" cy="1.5" r="7.8"/><circle cx="23.2" cy="3.8" r="5.1"/><circle cx="-2.5" cy="8.3" r="6.6"/><circle cx="19.5" cy="8.3" r="6.2"/><rect x="-2.5" y="3.0" width="22.0" height="12.0"/></g></g>
<text class="ar" x="892.9" y="401" font-size="11" textLength="118.2" lengthAdjust="spacingAndGlyphs" fill="#a8a8a8">www.seabreeze.com.au</text>
</svg></body></html>
